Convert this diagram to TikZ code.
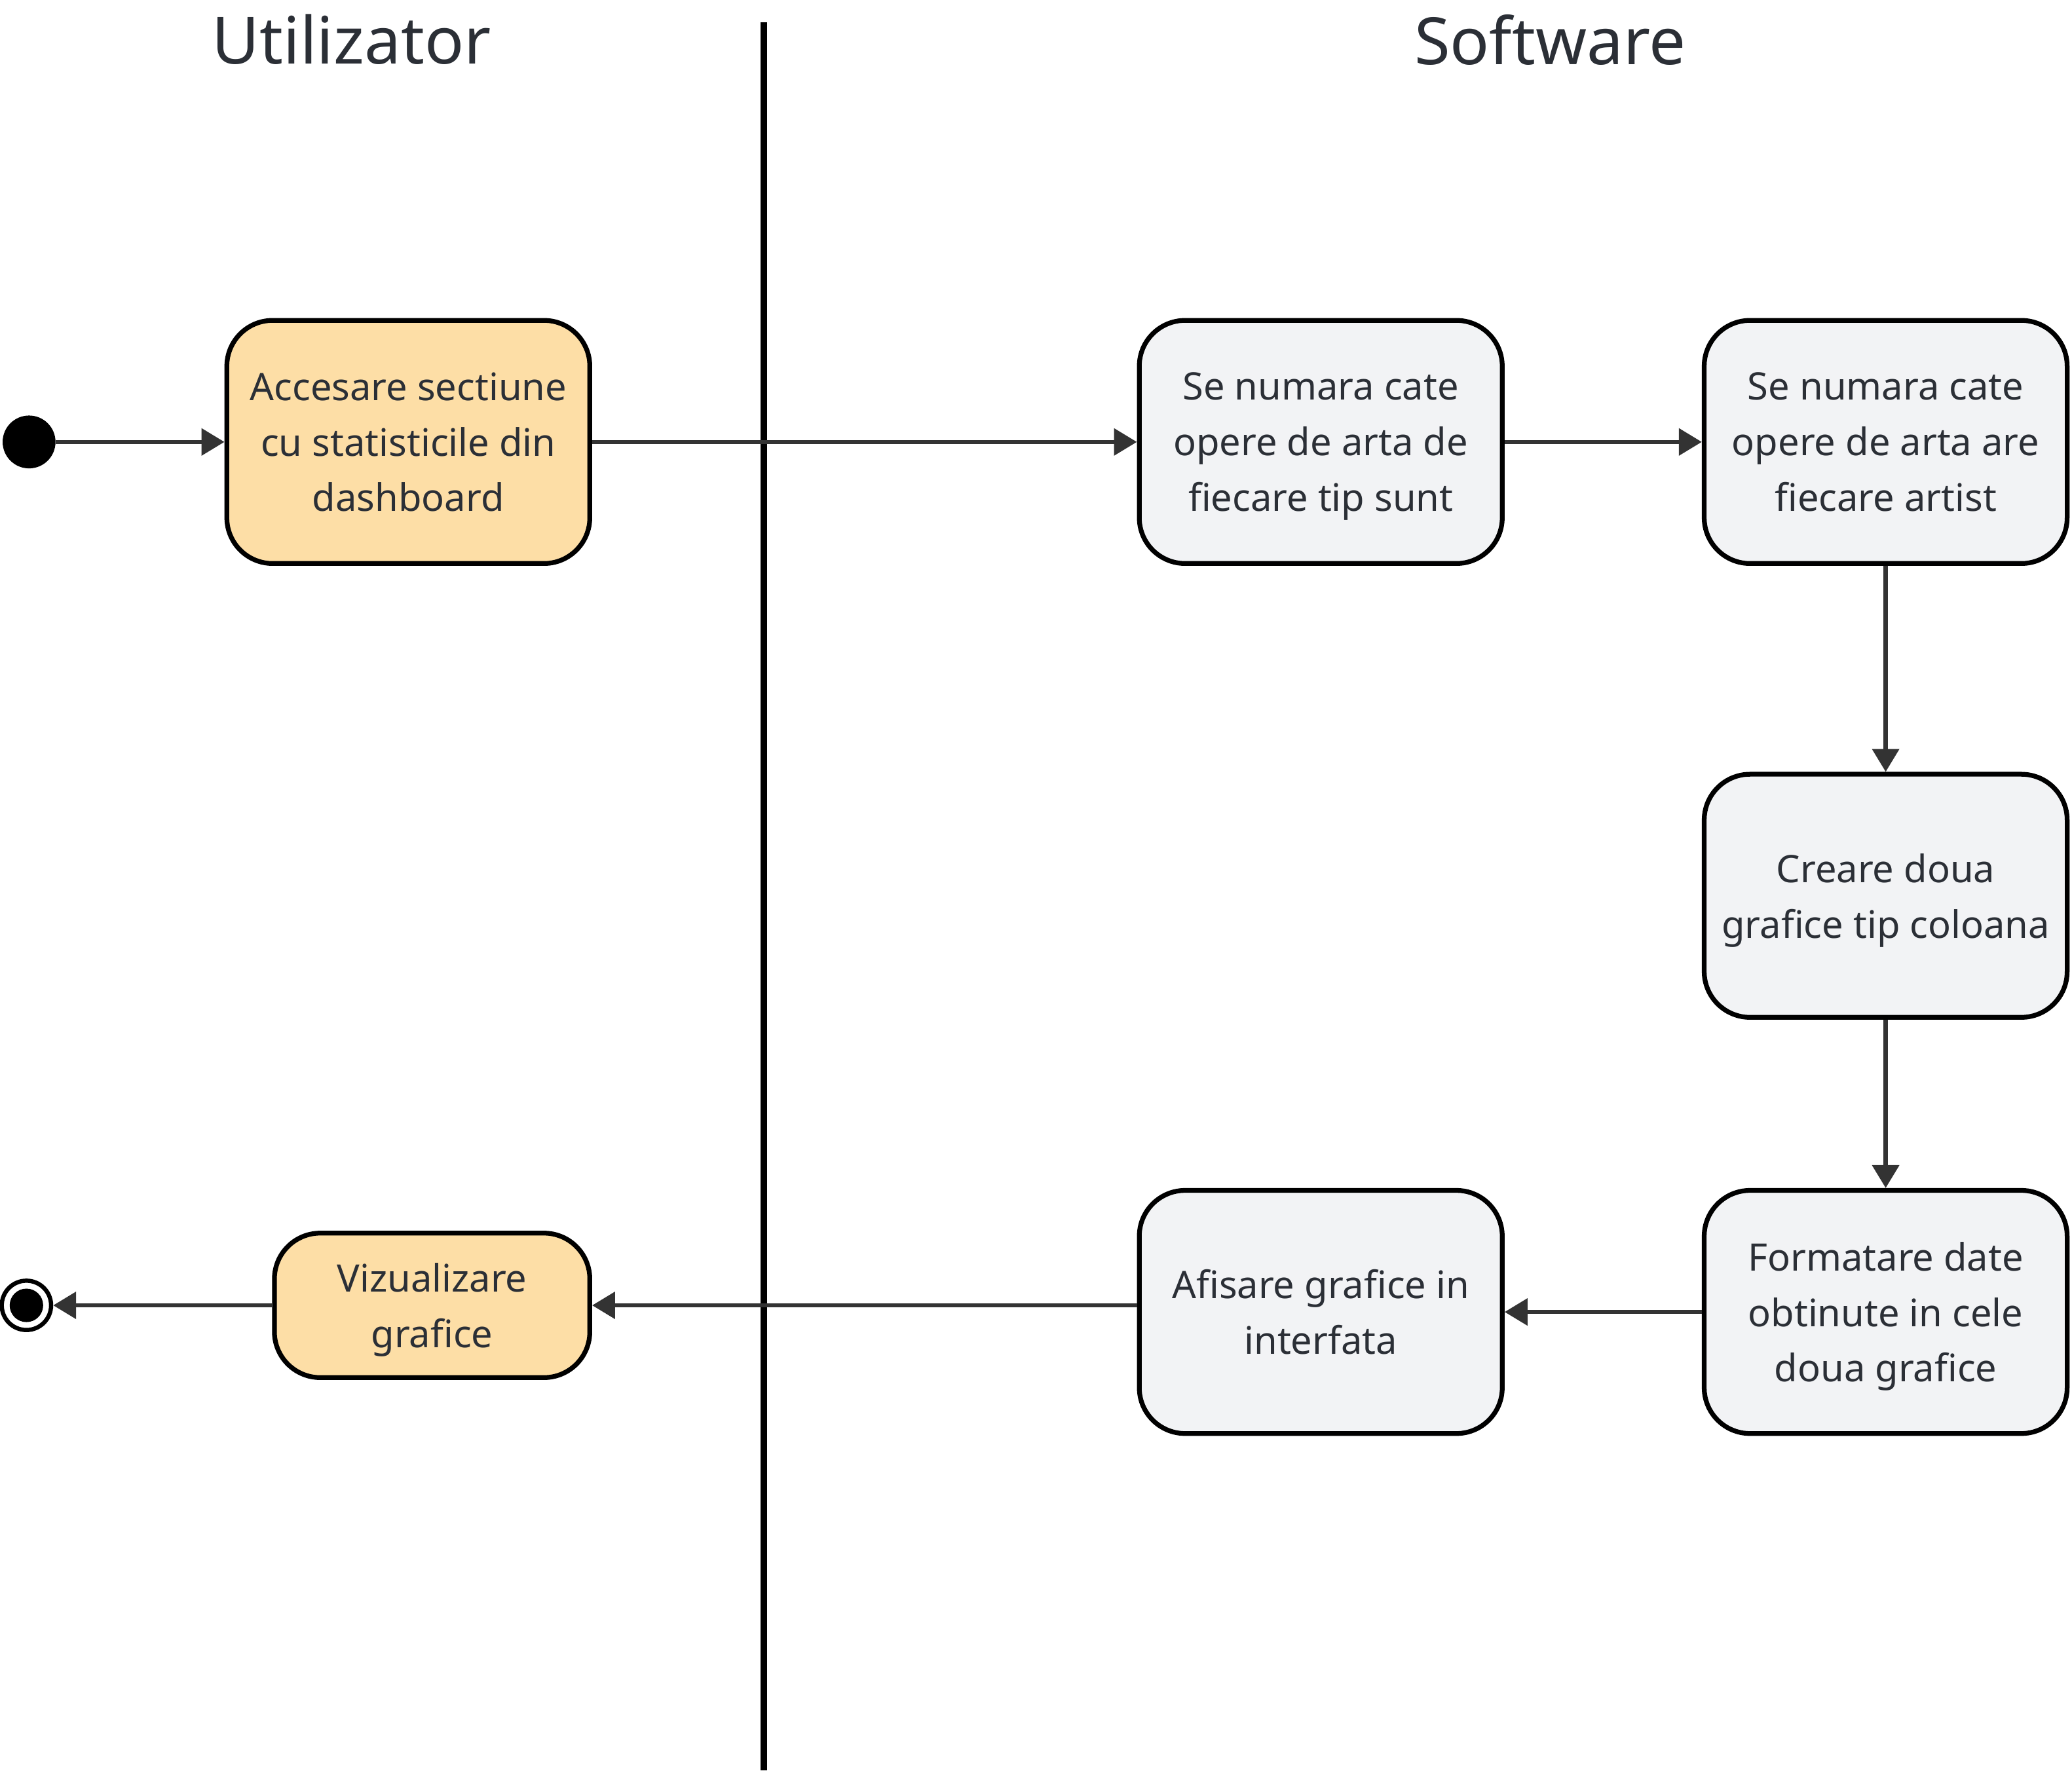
\documentclass[tikz,border=0pt]{standalone}
\usepackage{fontspec}
\setmainfont{Noto Sans}
\usetikzlibrary{positioning,arrows.meta}
\definecolor{peach}{RGB}{253,222,166}
\definecolor{boxgray}{RGB}{242,243,245}
\definecolor{textgray}{RGB}{43,47,54}
\definecolor{linegray}{RGB}{51,51,51}

\begin{document}
\begin{tikzpicture}[x=0.75pt,y=-0.75pt,
  every node/.style={align=center,text=textgray,font=\fontsize{21.5}{31.5}\selectfont},
  activity/.style={shape=rectangle,draw=black,line width=2.7pt,rounded corners=26pt,minimum width=206pt,minimum height=138pt,inner sep=0,text depth=0pt},
  user/.style={activity,fill=peach},
  soft/.style={activity,fill=boxgray},
  flow/.style={draw=linegray,line width=2.4pt,-{Triangle[length=13pt,width=15pt]}},
  lane/.style={font=\fontsize{37}{44}\selectfont}]

\useasboundingbox (0,0) rectangle (1568,1340);

\node [lane] (usertitle) at (266,30) {Utilizator};
\node [lane] (softtitle) at (1173,30) {Software};
\coordinate (lanetop) at (578,17);
\coordinate (lanebot) at (578,1340);
\draw [line width=3.6pt] (lanetop) -- (lanebot);

\node [circle, fill=black, minimum size=30pt, inner sep=0] (start) at (22,334.5) {};
\node [user] (access) at (309,334.5) {Accesare sectiune\\cu statisticile din\\dashboard};
\node [soft] (counttype) at (999.5,334.5) {Se numara cate\\opere de arta de\\fiecare tip sunt};
\node [soft] (countartist) at (1427,334.5) {Se numara cate\\opere de arta are\\fiecare artist};
\node [soft] (charts) at (1427,678) {Creare doua\\grafice tip coloana};
\node [soft] (format) at (1427,993) {Formatare date\\obtinute in cele\\doua grafice};
\node [soft] (display) at (999.5,993) {Afisare grafice in\\interfata};
\node [user, minimum width=179pt, minimum height=82pt] (view) at (327,988) {Vizualizare\\grafice};
\node [circle, draw=black, line width=2.4pt, fill=white, minimum size=28pt, inner sep=0] (end) at (20,988) {};
\node [circle, fill=black, minimum size=19pt, inner sep=0] (endin) at (end) {};

\draw [flow] (start) -- (access);
\draw [flow] (access) -- (counttype);
\draw [flow] (counttype) -- (countartist);
\draw [flow] (countartist) -- (charts);
\draw [flow] (charts) -- (format);
\draw [flow] (format) -- (display);
\draw [flow] (display.west |- view.east) -- (view.east);
\draw [flow] (view) -- (end);

\end{tikzpicture}
\end{document}
